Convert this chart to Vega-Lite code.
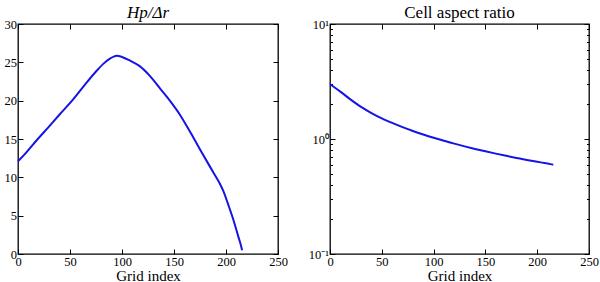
{
  "$schema": "https://vega.github.io/schema/vega-lite/v6.json",
  "autosize": {"type": "none"},
  "padding": {"left": 18, "top": 24, "right": 582, "bottom": 258},
  "background": "white",
  "datasets": {
    "hp": [
      {"i": 0, "v": 12.1}, {"i": 7, "v": 13.1}, {"i": 19, "v": 15.0}, {"i": 30, "v": 16.65},
      {"i": 40, "v": 18.2}, {"i": 52, "v": 20.0}, {"i": 65, "v": 22.2}, {"i": 75, "v": 23.8},
      {"i": 82, "v": 24.8}, {"i": 88, "v": 25.45}, {"i": 92, "v": 25.75}, {"i": 95, "v": 25.85},
      {"i": 100, "v": 25.7}, {"i": 108, "v": 25.2}, {"i": 117, "v": 24.5}, {"i": 127, "v": 23.2},
      {"i": 136.5, "v": 21.6}, {"i": 146, "v": 20.0}, {"i": 156, "v": 18.1}, {"i": 166, "v": 15.8},
      {"i": 176, "v": 13.4}, {"i": 188, "v": 10.6}, {"i": 194, "v": 9.2}, {"i": 197.5, "v": 8.2},
      {"i": 202, "v": 6.5}, {"i": 207, "v": 4.5}, {"i": 212, "v": 2.2}, {"i": 214, "v": 1.3},
      {"i": 215.5, "v": 0.5}
    ],
    "ar": [
      {"i": 0, "v": 3.0}, {"i": 10, "v": 2.58}, {"i": 20, "v": 2.2}, {"i": 30, "v": 1.9},
      {"i": 40, "v": 1.68}, {"i": 50, "v": 1.511}, {"i": 60, "v": 1.379}, {"i": 70, "v": 1.268},
      {"i": 80, "v": 1.175}, {"i": 90, "v": 1.095}, {"i": 100, "v": 1.025}, {"i": 110, "v": 0.964},
      {"i": 120, "v": 0.911}, {"i": 130, "v": 0.863}, {"i": 140, "v": 0.82}, {"i": 150, "v": 0.781},
      {"i": 160, "v": 0.746}, {"i": 170, "v": 0.714}, {"i": 180, "v": 0.685}, {"i": 190, "v": 0.658},
      {"i": 200, "v": 0.634}, {"i": 210, "v": 0.611}, {"i": 215.5, "v": 0.598}
    ]
  },
  "config": {
    "font": "Liberation Serif",
    "view": {"stroke": "#000", "strokeWidth": 1.3},
    "axis": {
      "domain": false, "grid": false,
      "tickColor": "#000", "tickSize": -5, "tickWidth": 1,
      "labelFont": "Liberation Serif", "labelFontSize": 12.5, "labelColor": "#000",
      "labelPadding": 6.5, "labelFlush": false, "labelOverlap": false,
      "titleFont": "Liberation Serif", "titleFontSize": 15, "titleFontWeight": "normal",
      "titleColor": "#000", "titlePadding": 0
    },
    "style": {"guide-label": {"font": "Liberation Serif"}, "guide-title": {"font": "Liberation Serif"}, "group-title": {"font": "Liberation Serif"}},
    "title": {"font": "Liberation Serif", "fontSize": 17, "fontWeight": "normal", "color": "#000", "offset": -4}
  },
  "spacing": 52,
  "bounds": "flush",
  "hconcat": [
    {
      "width": 260, "height": 230,
      "title": {"text": "Hp/Δr", "fontStyle": "italic"},
      "data": {"name": "hp"},
      "layer": [
        {
          "mark": {"type": "line", "color": "#1414e6", "strokeWidth": 2, "interpolate": "monotone"},
          "encoding": {
            "x": {"field": "i", "type": "quantitative", "scale": {"domain": [0, 250], "nice": false},
                  "axis": {"title": "Grid index", "values": [0, 50, 100, 150, 200, 250]}},
            "y": {"field": "v", "type": "quantitative", "scale": {"domain": [0, 30], "nice": false},
                  "axis": {"title": null, "values": [0, 5, 10, 15, 20, 25, 30]}}
          }
        },
        {
          "mark": {"type": "line", "opacity": 0},
          "encoding": {
            "x": {"field": "i", "type": "quantitative",
                  "axis": {"orient": "top", "title": null, "labels": false, "labelPadding": 0, "maxExtent": 0, "minExtent": 0, "values": [0, 50, 100, 150, 200, 250]}},
            "y": {"field": "v", "type": "quantitative",
                  "axis": {"orient": "right", "title": null, "labels": false, "labelPadding": 0, "maxExtent": 0, "minExtent": 0, "values": [0, 5, 10, 15, 20, 25, 30]}}
          }
        }
      ],
      "resolve": {"axis": {"x": "independent", "y": "independent"}}
    },
    {
      "width": 259, "height": 230,
      "title": {"text": "Cell aspect ratio"},
      "data": {"name": "ar"},
      "layer": [
        {
          "mark": {"type": "line", "color": "#1414e6", "strokeWidth": 2, "interpolate": "monotone"},
          "encoding": {
            "x": {"field": "i", "type": "quantitative", "scale": {"domain": [0, 250], "nice": false},
                  "axis": {"title": "Grid index", "values": [0, 50, 100, 150, 200, 250]}},
            "y": {"field": "v", "type": "quantitative", "scale": {"type": "log", "domain": [0.1, 10], "nice": false},
                  "axis": {"title": null,
                           "values": [0.1, 0.2, 0.3, 0.4, 0.5, 0.6, 0.7, 0.8, 0.9, 1, 2, 3, 4, 5, 6, 7, 8, 9, 10],
                           "labelExpr": "datum.value == 10 ? '10¹' : datum.value == 1 ? '10⁰' : datum.value == 0.1 ? '10⁻¹' : ''",
                           "tickSize": {"condition": {"test": "datum.value == 0.1 || datum.value == 1 || datum.value == 10", "value": -5}, "value": -2.5}}}
          }
        },
        {
          "mark": {"type": "line", "opacity": 0},
          "encoding": {
            "x": {"field": "i", "type": "quantitative",
                  "axis": {"orient": "top", "title": null, "labels": false, "labelPadding": 0, "maxExtent": 0, "minExtent": 0, "values": [0, 50, 100, 150, 200, 250]}},
            "y": {"field": "v", "type": "quantitative",
                  "axis": {"orient": "right", "title": null, "labels": false, "labelPadding": 0, "maxExtent": 0, "minExtent": 0,
                           "values": [0.1, 0.2, 0.3, 0.4, 0.5, 0.6, 0.7, 0.8, 0.9, 1, 2, 3, 4, 5, 6, 7, 8, 9, 10],
                           "tickSize": {"condition": {"test": "datum.value == 0.1 || datum.value == 1 || datum.value == 10", "value": -5}, "value": -2.5}}}
          }
        }
      ],
      "resolve": {"axis": {"x": "independent", "y": "independent"}}
    }
  ]
}
